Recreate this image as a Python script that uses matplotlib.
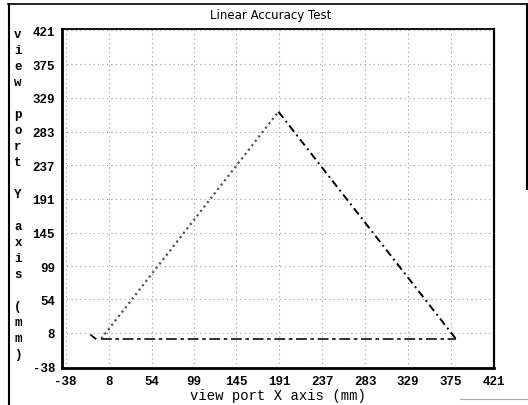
import matplotlib
matplotlib.use("Agg")
import matplotlib.pyplot as plt
from matplotlib.lines import Line2D
import numpy as np

# tick values shown on both axes
tick_vals = [-38, 8, 54, 99, 145, 191, 237, 283, 329, 375, 421]
tick_labels = ["-38", "8", "54", "99", "145", "191", "237", "283", "329", "375", "421"]

# triangle traced in the test (mm)
rise_x = [0, 190]
rise_y = [0, 310]
fall_x = [190, 380]
fall_y = [310, 0]
base_x = [0, 380]
base_y = [0, 0]
stub_x = [-11, -6]
stub_y = [5, 0]

title = "Linear Accuracy Test"
xlabel = "view port X axis (mm)"
ylabel = "view port Y axis (mm)"

font = "Liberation Mono"

fig = plt.figure(figsize=(5.28, 4.06), dpi=100)
ax = fig.add_axes([62 / 528, 1 - 369 / 406, (494 - 62) / 528, (369 - 30) / 406])

ax.plot(rise_x, rise_y, color="#555555", lw=1.6, linestyle=(0, (1, 1.5)))
ax.plot(fall_x, fall_y, color="black", lw=1.4, linestyle=(0, (4, 2, 1, 2)))
ax.plot(base_x, base_y, color="#222222", lw=1.3, linestyle=(0, (6, 2, 2, 2)))
ax.plot(stub_x, stub_y, color="black", lw=1.2)

ax.set_xlim(-42, 421)
ax.set_ylim(-40, 423)
ax.set_xticks(tick_vals)
ax.set_xticklabels(tick_labels)
ax.set_yticks(tick_vals)
ax.set_yticklabels(tick_labels)
ax.tick_params(length=0, pad=5, labelsize=9)
for lab in ax.get_xticklabels() + ax.get_yticklabels():
    lab.set_fontfamily(font)
    lab.set_fontweight("bold")

ax.grid(True, color="#999999", lw=0.8, linestyle=(0, (1, 3)))
ax.set_axisbelow(True)

for side, w in [("left", 2.0), ("bottom", 2.0), ("top", 1.3), ("right", 1.6)]:
    ax.spines[side].set_linewidth(w)
    ax.spines[side].set_color("black")

ax.set_xlabel(xlabel, fontfamily=font, fontsize=10, labelpad=1)

fig.text(271 / 528, 1 - 15 / 406, title, ha="center", va="center",
         fontfamily="DejaVu Sans", fontsize=8.5)
fig.text(18 / 528, 1 - 195 / 406, "\n".join(list(ylabel)), ha="center", va="center",
         fontfamily=font, fontsize=9, fontweight="bold", linespacing=1.44)

# outer frame of the printout
fig.add_artist(Line2D([8 / 528, 527 / 528], [1 - 5 / 406, 1 - 5 / 406],
                      transform=fig.transFigure, color="black", lw=1.2))
fig.add_artist(Line2D([9 / 528, 9 / 528], [1 - 5 / 406, 0],
                      transform=fig.transFigure, color="black", lw=1.5))
fig.add_artist(Line2D([527 / 528, 527 / 528], [1 - 5 / 406, 1 - 190 / 406],
                      transform=fig.transFigure, color="black", lw=1.5))
fig.add_artist(Line2D([460 / 528, 1], [1 - 400 / 406, 1 - 400 / 406],
                      transform=fig.transFigure, color="#aaaaaa", lw=0.8))

fig.savefig("out.png", dpi=100)
